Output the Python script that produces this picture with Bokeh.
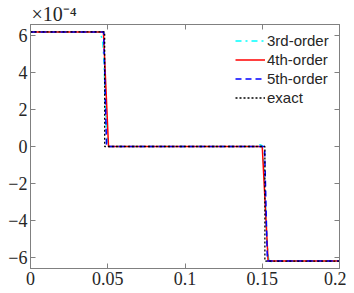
from bokeh.plotting import figure
from bokeh.models import (Legend, LegendItem, LinearAxis, FixedTicker,
                          CustomJSTickFormatter, Title)
from bokeh.embed import file_html
from bokeh.resources import INLINE

# values in units of 1e-4
x_exact = [0.0, 0.0480, 0.0480, 0.1517, 0.1517, 0.2]
y_exact = [6.2, 6.2, 0.0, 0.0, -6.2, -6.2]

x_3rd = [0.0, 0.0453, 0.0468, 0.0476, 0.0482, 0.0490, 0.0500, 0.0510,
         0.1470, 0.1485, 0.1500, 0.1510, 0.1520, 0.1530, 0.1540, 0.1548, 0.1560, 0.2]
y_3rd = [6.2, 6.2, 5.6, 4.6, 3.0, 1.2, 0.25, 0.0,
         0.0, 0.1, 0.05, -1.0, -3.0, -5.0, -6.0, -6.3, -6.2, -6.2]

x_4th = [0.0, 0.0472, 0.0505, 0.1500, 0.1538, 0.2]
y_4th = [6.2, 6.2, 0.0, 0.0, -6.2, -6.2]

x_5th = [0.0, 0.0474, 0.0492, 0.1515, 0.1533, 0.2]
y_5th = [6.2, 6.2, 0.0, 0.0, -6.2, -6.2]

x_ticks = [0, 0.05, 0.1, 0.15, 0.2]
x_tick_labels = ["0", "0.05", "0.1", "0.15", "0.2"]
y_ticks = [-6, -4, -2, 0, 2, 4, 6]
scale_text = "\u00d710\u207b\u2074"

AX = "#808080"
TXT = "#262626"
SERIF = "Liberation Serif"

ttl = Title(text=scale_text, align="left", text_font=SERIF,
            text_font_size="20px", text_font_style="normal",
            text_color=TXT, offset=1, standoff=0)

p = figure(width=346, height=287, x_range=(0, 0.2), y_range=(-6.6, 6.6),
           output_backend="svg", toolbar_location=None,
           min_border_left=30, min_border_right=7, min_border_top=22,
           min_border_bottom=18)
p.title = ttl
p.xgrid.visible = False
p.ygrid.visible = False
p.outline_line_color = AX
p.background_fill_color = "white"

def style(ax, labels=True):
    ax.axis_line_color = AX
    ax.major_tick_line_color = AX
    ax.minor_tick_line_color = None
    ax.major_tick_in = 5
    ax.major_tick_out = 0
    if labels:
        ax.major_label_text_font = SERIF
        ax.major_label_text_font_size = "18px"
        ax.major_label_text_color = TXT
        ax.major_label_standoff = 3
    else:
        ax.formatter = CustomJSTickFormatter(code="return ''")
        ax.major_label_standoff = 0

p.xaxis.ticker = FixedTicker(ticks=x_ticks)
p.xaxis.major_label_overrides = {t: l for t, l in zip(x_ticks, x_tick_labels)}
p.yaxis.ticker = FixedTicker(ticks=y_ticks)
style(p.xaxis[0])
style(p.yaxis[0])

top = LinearAxis(ticker=FixedTicker(ticks=x_ticks))
right = LinearAxis(ticker=FixedTicker(ticks=y_ticks))
style(top, False)
style(right, False)
p.add_layout(top, "above")
p.add_layout(right, "right")

r3 = p.line(x_3rd, y_3rd, line_color="#00FFFF", line_width=1.5, line_dash="dashdot")
r4 = p.line(x_4th, y_4th, line_color="#FF0000", line_width=1.5)
r5 = p.line(x_5th, y_5th, line_color="#0000FF", line_width=1.5, line_dash="6 4")
re = p.line(x_exact, y_exact, line_color="black", line_width=1.3, line_dash="2 2")

legend = Legend(items=[LegendItem(label="3rd-order", renderers=[r3]),
                       LegendItem(label="4th-order", renderers=[r4]),
                       LegendItem(label="5th-order", renderers=[r5]),
                       LegendItem(label="exact", renderers=[re])],
                location=(205, 162), border_line_color=None,
                background_fill_alpha=0, padding=0, margin=0,
                glyph_width=30, glyph_height=15, label_height=15,
                label_standoff=2, spacing=2,
                label_text_font="Liberation Sans", label_text_font_size="15px",
                label_text_color=TXT)
p.add_layout(legend, "center")

open("out.html", "w").write(file_html(p, INLINE))
